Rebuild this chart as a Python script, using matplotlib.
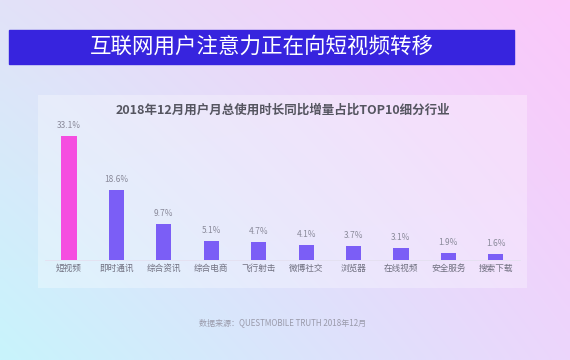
import numpy as np
import matplotlib
matplotlib.use("Agg")
import matplotlib.pyplot as plt
from matplotlib.patches import Rectangle

plt.rcParams['font.family'] = ['Noto Sans CJK SC', 'DejaVu Sans']

categories = ["短视频", "即时通讯", "综合资讯", "综合电商", "飞行射击",
              "微博社交", "浏览器", "在线视频", "安全服务", "搜索下载"]
values = [33.1, 18.6, 9.7, 5.1, 4.7, 4.1, 3.7, 3.1, 1.9, 1.6]
labels = ["33.1%", "18.6%", "9.7%", "5.1%", "4.7%",
          "4.1%", "3.7%", "3.1%", "1.9%", "1.6%"]

fig = plt.figure(figsize=(5.7, 3.6), dpi=100)

# gradient background
bg = fig.add_axes([0, 0, 1, 1])
tl = np.array([226, 226, 248]) / 255
tr = np.array([252, 200, 250]) / 255
bl = np.array([200, 244, 252]) / 255
br = np.array([236, 214, 252]) / 255
h, w = 90, 143
yy, xx = np.mgrid[0:1:h*1j, 0:1:w*1j]
img = (tl[None, None] * ((1-xx)*(1-yy))[..., None] + tr[None, None] * (xx*(1-yy))[..., None]
       + bl[None, None] * ((1-xx)*yy)[..., None] + br[None, None] * (xx*yy)[..., None])
bg.imshow(img, extent=[0, 570, 360, 0], aspect='auto', interpolation='bilinear')
bg.set_xlim(0, 570)
bg.set_ylim(360, 0)
bg.axis('off')

# title banner
bg.add_patch(Rectangle((9, 30), 505, 34, color='#3724de', zorder=2))
bg.text(262, 47, "互联网用户注意力正在向短视频转移", color='white', fontsize=15.5,
        ha='center', va='center', zorder=3)

# inner panel
bg.add_patch(Rectangle((38, 95), 489, 193, color='white', alpha=0.3, lw=0, zorder=1))
bg.text(283, 110, "2018年12月用户月总使用时长同比增量占比TOP10细分行业",
        color='#555560', fontsize=9, fontweight='bold', ha='center', va='center', zorder=3)
bg.text(283, 323, "数据来源：QUESTMOBILE TRUTH 2018年12月", color='#9a9aaa',
        fontsize=5.8, ha='center', va='center', zorder=3)

ax = fig.add_axes([0.0795, 0.2778, 0.832, 0.364])
ax.patch.set_alpha(0)
x = np.arange(len(values))
colors = ['#f54ee0'] + ['#7b5ef6'] * (len(values) - 1)
ax.bar(x, values, width=0.32, color=colors)
for xi, v, lab in zip(x, values, labels):
    ax.text(xi, v + 1.6, lab, ha='center', va='bottom', fontsize=6, color='#8a8a9a')
ax.set_xlim(-0.5, 9.5)
ax.set_ylim(0, 35)
ax.set_xticks(x)
ax.set_xticklabels(categories, fontsize=6.2, color='#707080')
ax.tick_params(axis='x', length=0, pad=3)
ax.set_yticks([])
for s in ['top', 'right', 'left']:
    ax.spines[s].set_visible(False)
ax.spines['bottom'].set_color('#e4e0f0')
ax.spines['bottom'].set_linewidth(0.6)

fig.savefig("out.png", dpi=100)
